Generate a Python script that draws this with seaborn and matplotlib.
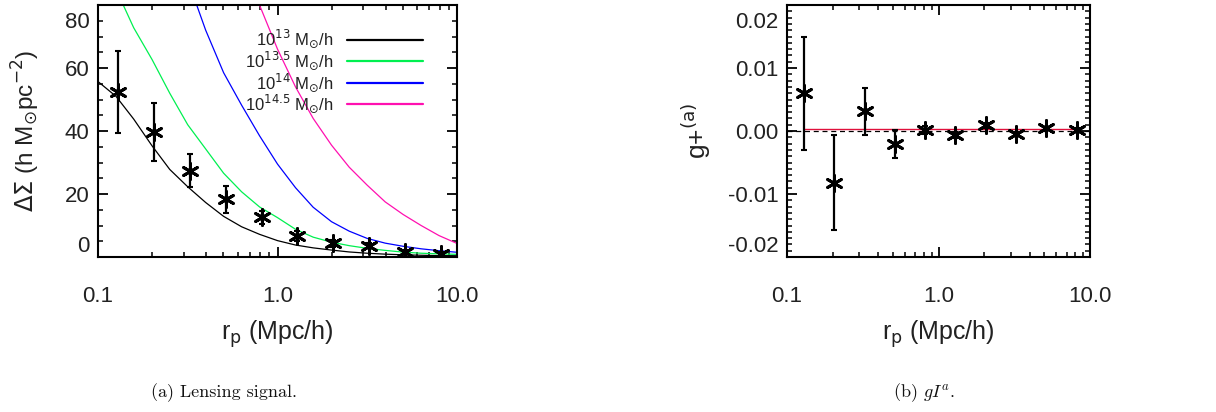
import numpy as np
import pandas as pd
import matplotlib
matplotlib.use("Agg")
import matplotlib.pyplot as plt
import matplotlib.ticker as mticker
import matplotlib.transforms as mtransforms
import seaborn as sns

# data
r_p = [0.13, 0.205, 0.325, 0.515, 0.816, 1.29, 2.05, 3.25, 5.15, 8.16]

delta_sigma = [52.5, 39.8, 27.4, 18.3, 12.6, 6.7, 4.3, 3.5, 1.7, 1.0]
delta_sigma_err = [13.0, 9.2, 5.3, 4.2, 2.1, 1.5, 1.0, 0.8, 0.6, 0.5]

g_plus = [0.0060, -0.0082, 0.0031, -0.0021, 0.00016, -0.0006, 0.0009, -0.0004, 0.0004, 0.0002]
g_plus_err = [0.0090, 0.0075, 0.0038, 0.0022, 0.0006, 0.0005, 0.0004, 0.0003, 0.0003, 0.0003]
g_plus_fit = 0.0003

# model curves, sampled from the figure
r_model = [0.1, 0.126, 0.158, 0.2, 0.251, 0.316, 0.398, 0.501, 0.631, 0.794,
           1.0, 1.26, 1.58, 2.0, 2.51, 3.16, 3.98, 5.01, 6.31, 7.94, 10.0]
model_13 = [55.7, 51.0, 43.8, 35.3, 27.8, 22.3, 17.3, 12.9, 9.6, 7.2,
            5.2, 3.8, 2.9, 2.2, 1.6, 1.2, 0.9, 0.7, 0.55, 0.45, 0.4]
model_135 = [100, 85, 72.8, 62.7, 52, 42, 34.3, 26.6, 20.7, 15.9,
             12.5, 8.8, 6.3, 4.7, 3.6, 2.75, 2.1, 1.55, 1.2, 1.0, 0.85]
model_14 = [245, 200, 163, 133, 108, 88, 72, 58.5, 48.2, 38.5,
            29.5, 22.0, 15.8, 11.2, 8.2, 5.9, 4.4, 3.4, 2.6, 2.0, 1.5]
model_145 = [np.nan, np.nan, np.nan, np.nan, np.nan, np.nan, np.nan, np.nan,
             97, 80, 66, 54, 44, 35.5, 28.5, 22.8, 17.5, 13.5, 10, 6.8, 4.3]

mass_labels = [r"10$^{13}$ M$_{\odot}$/h", r"10$^{13.5}$ M$_{\odot}$/h",
               r"10$^{14}$ M$_{\odot}$/h", r"10$^{14.5}$ M$_{\odot}$/h"]
mass_colors = ["black", "#00f050", "#0000ff", "#ff10b0"]

models = pd.DataFrame({"r": r_model,
                       mass_labels[0]: model_13, mass_labels[1]: model_135,
                       mass_labels[2]: model_14, mass_labels[3]: model_145})
models = models.melt(id_vars="r", var_name="mass", value_name="dsig").dropna()

sns.set_style("ticks")
plt.rcParams["font.family"] = ["Liberation Sans", "DejaVu Sans"]
plt.rcParams["mathtext.fontset"] = "dejavusans"

TXT = "#222222"
star = (6, 2, 0)


def style_axis(ax):
    ax.set_xscale("log")
    ax.set_xlim(0.1, 10)
    for s in ax.spines.values():
        s.set_linewidth(1.5)
        s.set_color("black")
    ax.tick_params(which="both", direction="in", top=True, right=True,
                   color="black", labelcolor=TXT, labelsize=16)
    ax.tick_params(which="major", length=7, width=1.3)
    ax.tick_params(which="minor", length=3.5, width=1.1)
    ax.tick_params(axis="x", pad=21)
    ax.tick_params(axis="y", pad=6)
    ax.set_xticks([0.1, 1, 10], labels=["0.1", "1.0", "10.0"])
    ax.xaxis.set_minor_locator(mticker.LogLocator(subs=np.arange(2, 10)))
    ax.xaxis.set_minor_formatter(mticker.NullFormatter())
    ax.set_xlabel(r"r$_{\rm p}$ (Mpc/h)", fontsize=18, color=TXT)
    ax.xaxis.set_label_coords(0.5, -0.245)


def keep_end_labels_inside(ax):
    # IDL-style: first/last y labels pulled inside the frame
    labels = ax.get_yticklabels()
    labels[0].set_va("bottom")
    labels[-1].set_va("top")
    shift = mtransforms.ScaledTranslation(0, -5 / 72, ax.figure.dpi_scale_trans)
    labels[-1].set_transform(labels[-1].get_transform() + shift)


fig = plt.figure(figsize=(12.16, 4.12), dpi=100)
ax1 = fig.add_axes([98 / 1216, 155 / 412, 359 / 1216, 252 / 412])
ax2 = fig.add_axes([787 / 1216, 155 / 412, 303 / 1216, 252 / 412])

# panel (a): lensing signal
sns.lineplot(data=models, x="r", y="dsig", hue="mass", palette=mass_colors,
             linewidth=0.9, ax=ax1)
ax1.errorbar(r_p, delta_sigma, yerr=delta_sigma_err, fmt="none", ecolor="black",
             elinewidth=1.6, capsize=2.5, capthick=1.5)
sns.scatterplot(x=r_p, y=delta_sigma, marker=star, s=130, color="black",
                linewidth=2.1, ax=ax1, zorder=5)
style_axis(ax1)
ax1.set_ylim(0, 80)
ax1.set_yticks([0, 20, 40, 60, 80], labels=["0", "20", "40", "60", "80"])
ax1.yaxis.set_minor_locator(mticker.MultipleLocator(5))
keep_end_labels_inside(ax1)
ax1.set_ylabel(r"$\Delta\Sigma$ (h M$_{\odot}$pc$^{-2}$)", fontsize=17.5, color=TXT)
ax1.yaxis.set_label_coords(-0.155, 0.5)
handles, labels = ax1.get_legend_handles_labels()
ax1.legend(handles[:4], labels[:4], loc="upper right", bbox_to_anchor=(0.925, 0.935),
           frameon=False, markerfirst=False, fontsize=12, handlelength=4.6,
           labelspacing=-0.05, borderaxespad=0, labelcolor=TXT, alignment="right")
for line in ax1.get_legend().get_lines():
    line.set_linewidth(1.6)

# panel (b): gI^a
ax2.axhline(0, color="black", linestyle=(0, (4, 3)), linewidth=0.9)
sns.lineplot(x=[r_p[0], r_p[-1]], y=[g_plus_fit, g_plus_fit], color="#e0103c",
             linewidth=1.0, ax=ax2)
ax2.errorbar(r_p, g_plus, yerr=g_plus_err, fmt="none", ecolor="black",
             elinewidth=1.6, capsize=2.5, capthick=1.5)
sns.scatterplot(x=r_p, y=g_plus, marker=star, s=130, color="black",
                linewidth=2.1, ax=ax2, zorder=5)
style_axis(ax2)
ax2.set_ylim(-0.02, 0.02)
ax2.set_yticks([-0.02, -0.01, 0, 0.01, 0.02],
               labels=["-0.02", "-0.01", "0.00", "0.01", "0.02"])
ax2.yaxis.set_minor_locator(mticker.MultipleLocator(0.001))
keep_end_labels_inside(ax2)
ax2.set_ylabel(r"g+$^{\rm (a)}$", fontsize=19, color=TXT)
ax2.yaxis.set_label_coords(-0.245, 0.5)

# captions
fig.text(224 / 1216, 1 - 393 / 412, "(a) Lensing signal.", family="cmr10",
         fontsize=13, ha="center", va="center", color="#111111")
fig.text(924 / 1216, 1 - 393 / 412, r"(b) $gI^a$.", family="cmr10",
         math_fontfamily="cm", fontsize=13, ha="center", va="center", color="#111111")

fig.savefig("out.png", dpi=100)
